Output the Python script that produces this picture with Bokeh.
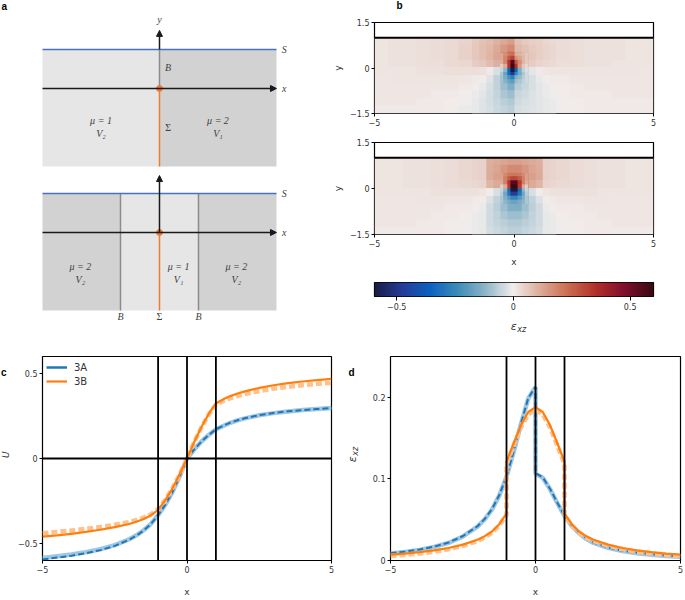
import numpy as np
from bokeh.plotting import figure
from bokeh.layouts import row, column
from bokeh.models import (Range1d, FixedTicker, Span, Label, Arrow, NormalHead,
                          LinearColorMapper, Legend, LegendItem, CustomJSTickFormatter)
from bokeh.embed import file_html
from bokeh.resources import INLINE

# ------------------------------------------------------------------ data
# panel c : displacement U along x
x_u = [-5, -4.5, -4, -3.5, -3, -2.5, -2, -1.75, -1.5, -1.25, -1, -0.75, -0.5, -0.25,
       0, 0.25, 0.5, 0.75, 1, 1.25, 1.5, 1.75, 2, 2.5, 3, 3.5, 4, 4.5, 5]
u_3A = [-0.594, -0.583, -0.572, -0.557, -0.539, -0.514, -0.478, -0.454, -0.424, -0.386,
        -0.333, -0.272, -0.196, -0.104, 0.0, 0.053, 0.1, 0.138, 0.172, 0.192, 0.211,
        0.225, 0.237, 0.255, 0.268, 0.278, 0.285, 0.291, 0.296]
u_3A_ref = [-0.585, -0.575, -0.565, -0.551, -0.534, -0.510, -0.475, -0.452, -0.422, -0.385,
            -0.333, -0.272, -0.196, -0.104, 0.0, 0.053, 0.1, 0.138, 0.171, 0.191, 0.21,
            0.224, 0.236, 0.254, 0.267, 0.277, 0.285, 0.291, 0.297]
u_3B = [-0.46, -0.452, -0.443, -0.432, -0.419, -0.404, -0.385, -0.372, -0.356, -0.335,
        -0.302, -0.245, -0.175, -0.093, 0.0, 0.097, 0.185, 0.262, 0.324, 0.348, 0.367,
        0.382, 0.395, 0.415, 0.431, 0.443, 0.453, 0.461, 0.468]
u_3B_ref = [-0.44, -0.432, -0.424, -0.414, -0.403, -0.39, -0.374, -0.362, -0.348, -0.329,
            -0.298, -0.243, -0.174, -0.092, 0.0, 0.096, 0.183, 0.258, 0.316, 0.338, 0.355,
            0.368, 0.379, 0.397, 0.411, 0.422, 0.431, 0.439, 0.445]

# panel d : strain eps_xz along x
x_e3A = [-5, -4.5, -4, -3.5, -3, -2.5, -2, -1.75, -1.5, -1.25, -1, -0.75, -0.5, -0.25, 0,
         0, 0.25, 0.5, 0.75, 1, 1.25, 1.5, 1.75, 2, 2.5, 3, 3.5, 4, 4.5, 5]
e_3A = [0.009, 0.011, 0.0135, 0.017, 0.022, 0.03, 0.042, 0.051, 0.063, 0.08, 0.103, 0.134,
        0.168, 0.199, 0.213, 0.107, 0.102, 0.088, 0.071, 0.055, 0.043, 0.034, 0.027, 0.022,
        0.016, 0.012, 0.0095, 0.0075, 0.006, 0.005]
e_3A_ref = [0.0085, 0.0105, 0.013, 0.0165, 0.0215, 0.0295, 0.0415, 0.0505, 0.0625, 0.0795,
            0.1025, 0.1335, 0.1675, 0.1985, 0.2125, 0.1065, 0.1015, 0.0875, 0.0705, 0.0545,
            0.0425, 0.0335, 0.0265, 0.0215, 0.0155, 0.0115, 0.009, 0.007, 0.0055, 0.0045]
x_e3B = [-5, -4.5, -4, -3.5, -3, -2.5, -2, -1.75, -1.5, -1.25, -1, -1, -0.75, -0.5, -0.25, 0,
         0.25, 0.5, 0.75, 1, 1, 1.25, 1.5, 1.75, 2, 2.5, 3, 3.5, 4, 4.5, 5]
e_3B = [0.0072, 0.0085, 0.0102, 0.0125, 0.0153, 0.0195, 0.0255, 0.0298, 0.0355, 0.0445,
        0.0575, 0.121, 0.144, 0.166, 0.182, 0.188, 0.182, 0.166, 0.144, 0.121, 0.0575,
        0.0445, 0.0355, 0.0298, 0.0255, 0.0195, 0.0153, 0.0125, 0.0102, 0.0085, 0.0072]
e_3B_ref = [0.0055, 0.0068, 0.0085, 0.0108, 0.0138, 0.018, 0.0238, 0.0282, 0.034, 0.043,
            0.0555, 0.118, 0.141, 0.163, 0.179, 0.185, 0.179, 0.163, 0.141, 0.118, 0.0555,
            0.043, 0.034, 0.0282, 0.0238, 0.018, 0.0138, 0.0108, 0.0085, 0.0068, 0.0055]

# panel b : eps_xz maps. Coarse cells 0.5 x 0.25 (rows y=0.875 ... -1.375, columns |x|=0.25 ... 4.75)
eps_3A_left = [
    [0.14, 0.09, 0.06, 0.045, 0.035, 0.03, 0.025, 0.022, 0.02, 0.018],
    [0.17, 0.10, 0.065, 0.048, 0.037, 0.03, 0.025, 0.022, 0.02, 0.018],
    [0.22, 0.11, 0.068, 0.048, 0.037, 0.03, 0.025, 0.022, 0.02, 0.018],
    [0.30, 0.09, 0.055, 0.042, 0.034, 0.028, 0.024, 0.021, 0.019, 0.017],
    [-0.25, -0.02, 0.02, 0.025, 0.024, 0.022, 0.02, 0.018, 0.017, 0.016],
    [-0.18, -0.04, 0.0, 0.012, 0.016, 0.017, 0.016, 0.015, 0.015, 0.014],
    [-0.12, -0.05, -0.01, 0.005, 0.01, 0.012, 0.013, 0.013, 0.013, 0.012],
    [-0.09, -0.05, -0.015, 0.0, 0.006, 0.009, 0.01, 0.011, 0.011, 0.011],
    [-0.07, -0.045, -0.018, -0.003, 0.003, 0.007, 0.009, 0.01, 0.01, 0.01],
    [-0.06, -0.04, -0.018, -0.005, 0.002, 0.005, 0.008, 0.009, 0.009, 0.009],
]
eps_3A_right = [
    [0.07, 0.05, 0.038, 0.03, 0.026, 0.023, 0.021, 0.019, 0.018, 0.017],
    [0.085, 0.055, 0.04, 0.031, 0.026, 0.023, 0.021, 0.019, 0.018, 0.017],
    [0.11, 0.058, 0.04, 0.031, 0.026, 0.023, 0.021, 0.019, 0.018, 0.017],
    [0.17, 0.05, 0.035, 0.028, 0.024, 0.021, 0.019, 0.018, 0.017, 0.016],
    [-0.15, -0.005, 0.015, 0.018, 0.018, 0.017, 0.016, 0.015, 0.015, 0.014],
    [-0.09, -0.02, 0.002, 0.009, 0.012, 0.013, 0.013, 0.013, 0.013, 0.012],
    [-0.06, -0.025, -0.005, 0.004, 0.008, 0.01, 0.011, 0.011, 0.011, 0.011],
    [-0.045, -0.025, -0.008, 0.0, 0.005, 0.008, 0.009, 0.01, 0.01, 0.01],
    [-0.035, -0.022, -0.009, -0.002, 0.003, 0.006, 0.008, 0.009, 0.009, 0.009],
    [-0.03, -0.02, -0.009, -0.003, 0.002, 0.005, 0.007, 0.008, 0.008, 0.008],
]
eps_3B_half = [
    [0.13, 0.11, 0.045, 0.038, 0.032, 0.027, 0.023, 0.02, 0.018, 0.016],
    [0.16, 0.12, 0.047, 0.039, 0.032, 0.027, 0.023, 0.02, 0.018, 0.016],
    [0.21, 0.125, 0.046, 0.038, 0.031, 0.026, 0.022, 0.02, 0.018, 0.016],
    [0.30, 0.11, 0.04, 0.034, 0.029, 0.025, 0.021, 0.019, 0.017, 0.015],
    [-0.25, -0.01, 0.02, 0.022, 0.021, 0.02, 0.018, 0.017, 0.016, 0.015],
    [-0.16, -0.04, 0.005, 0.012, 0.014, 0.015, 0.015, 0.014, 0.014, 0.013],
    [-0.1, -0.05, -0.005, 0.005, 0.009, 0.011, 0.012, 0.012, 0.012, 0.012],
    [-0.075, -0.05, -0.008, 0.001, 0.006, 0.009, 0.01, 0.011, 0.011, 0.011],
    [-0.06, -0.045, -0.01, -0.002, 0.003, 0.007, 0.009, 0.01, 0.01, 0.01],
    [-0.05, -0.04, -0.01, -0.003, 0.002, 0.005, 0.008, 0.009, 0.009, 0.009],
]
# middle cells 0.25 x 0.25 for -1.5 < x < 1.5 (3A: x=-1.375 ... 1.375 ; 3B: |x|=0.125 ... 1.375)
eps_3A_mid = [
    [0.065, 0.075, 0.088, 0.105, 0.125, 0.145, 0.075, 0.065, 0.055, 0.047, 0.041, 0.036],
    [0.068, 0.08, 0.095, 0.12, 0.15, 0.18, 0.09, 0.077, 0.063, 0.052, 0.044, 0.038],
    [0.07, 0.083, 0.1, 0.13, 0.18, 0.25, 0.125, 0.09, 0.068, 0.055, 0.045, 0.039],
    [0.06, 0.07, 0.085, 0.11, 0.18, 0.4, 0.2, 0.09, 0.06, 0.045, 0.038, 0.033],
    [0.025, 0.02, 0.005, -0.03, -0.12, -0.4, -0.2, -0.06, -0.015, 0.005, 0.012, 0.015],
    [0.008, 0.0, -0.02, -0.06, -0.13, -0.24, -0.12, -0.065, -0.03, -0.01, 0.0, 0.005],
    [-0.002, -0.012, -0.03, -0.06, -0.1, -0.14, -0.07, -0.05, -0.03, -0.015, -0.006, 0.0],
    [-0.008, -0.018, -0.033, -0.055, -0.08, -0.1, -0.05, -0.04, -0.028, -0.017, -0.009, -0.003],
    [-0.01, -0.02, -0.033, -0.05, -0.065, -0.077, -0.038, -0.032, -0.025, -0.017, -0.01, -0.005],
    [-0.012, -0.02, -0.032, -0.045, -0.056, -0.063, -0.032, -0.028, -0.022, -0.016, -0.01, -0.006],
]
eps_3B_mid_half = [
    [0.14, 0.13, 0.12, 0.11, 0.048, 0.044],
    [0.18, 0.155, 0.13, 0.115, 0.05, 0.046],
    [0.25, 0.18, 0.14, 0.118, 0.05, 0.045],
    [0.4, 0.18, 0.12, 0.1, 0.043, 0.04],
    [-0.4, -0.12, -0.03, 0.0, 0.018, 0.02],
    [-0.24, -0.13, -0.06, -0.025, 0.002, 0.007],
    [-0.14, -0.1, -0.065, -0.04, -0.006, 0.0],
    [-0.1, -0.08, -0.058, -0.042, -0.01, -0.005],
    [-0.077, -0.065, -0.052, -0.04, -0.011, -0.007],
    [-0.063, -0.056, -0.046, -0.037, -0.011, -0.008],
]
# core cells 0.125 x 0.125 for -0.5 < x, y < 0.5 (rows from top)
eps_3A_core = [
    [0.13, 0.17, 0.21, 0.23, 0.11, 0.10, 0.085, 0.065],
    [0.13, 0.19, 0.27, 0.32, 0.16, 0.13, 0.095, 0.07],
    [0.11, 0.19, 0.35, 0.55, 0.28, 0.17, 0.10, 0.065],
    [0.06, 0.12, 0.35, 0.60, 0.35, 0.15, 0.07, 0.04],
    [-0.05, -0.12, -0.35, -0.60, -0.35, -0.14, -0.06, -0.025],
    [-0.08, -0.17, -0.33, -0.50, -0.25, -0.15, -0.08, -0.04],
    [-0.09, -0.15, -0.22, -0.27, -0.14, -0.11, -0.07, -0.04],
    [-0.09, -0.13, -0.17, -0.19, -0.10, -0.08, -0.06, -0.04],
]
eps_3B_core = [
    [0.14, 0.18, 0.21, 0.22, 0.22, 0.21, 0.18, 0.14],
    [0.14, 0.20, 0.27, 0.31, 0.31, 0.27, 0.20, 0.14],
    [0.12, 0.20, 0.35, 0.55, 0.55, 0.35, 0.20, 0.12],
    [0.06, 0.12, 0.33, 0.60, 0.60, 0.33, 0.12, 0.06],
    [-0.05, -0.12, -0.33, -0.60, -0.60, -0.33, -0.12, -0.05],
    [-0.07, -0.16, -0.30, -0.48, -0.48, -0.30, -0.16, -0.07],
    [-0.08, -0.14, -0.20, -0.25, -0.25, -0.20, -0.14, -0.08],
    [-0.08, -0.12, -0.15, -0.17, -0.17, -0.15, -0.12, -0.08],
]
surface_y = 1.0
interfaces_3B = [-1.0, 0.0, 1.0]
cbar_ticks = [-0.5, 0, 0.5]

# panel a : schematic geometry
half_width = 3.0
depth = -2.0
strip = [-1.0, 1.0]
diagram_offset = -3.692

# ------------------------------------------------------------------ styles
BLUE, BLUE_L = "#1f77b4", "#9fc6e2"
ORANGE, ORANGE_L = "#ff7f0e", "#ffc08a"
LIGHT, DARK = "#e6e6e6", "#d2d2d2"
S_BLUE, S_ORANGE, GREY = "#4472c4", "#ed7d31", "#8c8c8c"
TXT = "#333333"

balance_anchors = ["#181c43", "#273b97", "#0b61bf", "#3b8bb8", "#8db5c8", "#f1edec",
                   "#dcaa98", "#cb6b4f", "#b12f2a", "#800f2e", "#3c0912"]


def make_palette(anchors, n=256):
    rgb = np.array([[int(h[i:i + 2], 16) for i in (1, 3, 5)] for h in anchors], float)
    pos = np.linspace(0, 1, len(anchors))
    out = []
    for t in np.linspace(0, 1, n):
        c = [int(round(np.interp(t, pos, rgb[:, k]))) for k in range(3)]
        out.append("#%02x%02x%02x" % tuple(c))
    return out


mapper = LinearColorMapper(palette=make_palette(balance_anchors), low=-0.6, high=0.6)
minus_fmt = "return tick < 0 ? '\u2212' + (-tick) : String(tick);"


def style_axes(p, xticks, yticks, tick_out=3):
    p.xgrid.visible = False
    p.ygrid.visible = False
    p.outline_line_color = "black"
    p.outline_line_width = 1.2
    for ax in p.axis:
        ax.axis_line_color = None
        ax.major_tick_line_color = "black"
        ax.major_tick_line_width = 1
        ax.major_tick_out = tick_out
        ax.major_tick_in = 0
        ax.minor_tick_line_color = None
        ax.major_label_text_font = "DejaVu Sans"
        ax.major_label_text_font_size = "8px"
        ax.major_label_text_color = TXT
        ax.major_label_standoff = 2
        ax.axis_label_text_font = "DejaVu Sans"
        ax.axis_label_text_font_size = "9px"
        ax.axis_label_text_font_style = "normal"
        ax.axis_label_text_color = TXT
        ax.formatter = CustomJSTickFormatter(code=minus_fmt)
    p.xaxis.ticker = FixedTicker(ticks=xticks)
    if yticks is not None:
        p.yaxis.ticker = FixedTicker(ticks=yticks)


def lab(p, x, y, text, size="9px", font="DejaVu Sans", style="normal", angle=0,
        align="center", baseline="middle", color=TXT):
    p.add_layout(Label(x=x, y=y, text=text, text_font=font, text_font_size=size,
                       text_font_style=style, angle=angle, text_align=align,
                       text_baseline=baseline, text_color=color))


def text_strip(w, h):
    s = figure(width=w, height=h, x_range=Range1d(0, w), y_range=Range1d(0, h),
               x_axis_location=None, y_axis_location=None, toolbar_location=None,
               output_backend="svg", min_border=0)
    s.grid.visible = False
    s.outline_line_color = None
    return s


# ------------------------------------------------------------------ panel a
pa = figure(width=330, height=333, x_range=Range1d(-4.077, 4.385),
            y_range=Range1d(-6.282, 2.256), x_axis_location=None, y_axis_location=None,
            toolbar_location=None, output_backend="svg", min_border=0)
pa.grid.visible = False
pa.outline_line_color = None

serif = "Liberation Serif"
ink = "#404040"
head = dict(size=6, fill_color="#1a1a1a", line_color="#1a1a1a")
for k, off in enumerate([0.0, diagram_offset]):
    if k == 0:
        lefts, rights, fills = [-half_width, 0], [0, half_width], [LIGHT, DARK]
    else:
        lefts = [-half_width, strip[0], strip[1]]
        rights = [strip[0], strip[1], half_width]
        fills = [DARK, LIGHT, DARK]
    pa.quad(left=lefts, right=rights, bottom=[depth + off] * len(lefts),
            top=[surface_y + off] * len(lefts), fill_color=fills, line_color=None)
    if k == 1:
        pa.segment(x0=strip, y0=[depth + off] * 2, x1=strip, y1=[surface_y + off] * 2,
                   line_color=GREY, line_width=1.5)
    pa.segment(x0=[-half_width], y0=[surface_y + off], x1=[half_width], y1=[surface_y + off],
               line_color=S_BLUE, line_width=1.3)
    pa.add_layout(Arrow(end=NormalHead(**head), x_start=-half_width, y_start=off,
                        x_end=half_width, y_end=off, line_color="#1a1a1a", line_width=1.5))
    if k == 0:
        pa.segment(x0=[0], y0=[off], x1=[0], y1=[surface_y + off], line_color=GREY, line_width=1.5)
        pa.add_layout(Arrow(end=NormalHead(**head), x_start=0, y_start=surface_y + off,
                            x_end=0, y_end=1.49 + off, line_color="#1a1a1a", line_width=1.5))
    else:
        pa.add_layout(Arrow(end=NormalHead(**head), x_start=0, y_start=off,
                            x_end=0, y_end=1.46 + off, line_color="#1a1a1a", line_width=1.5))
    pa.segment(x0=[0], y0=[depth + off], x1=[0], y1=[off], line_color=S_ORANGE, line_width=1.5)
    pa.scatter(x=[0], y=[off], size=6, fill_color=S_ORANGE, line_color=S_ORANGE)
    lab(pa, 3.2, surface_y + off, "S", size="10px", font=serif, style="italic", color=ink)
    lab(pa, 3.2, off, "x", size="10px", font=serif, style="italic", color=ink)

lab(pa, 0, 1.77, "y", size="10px", font=serif, style="italic", color=ink)
lab(pa, 0.22, 0.54, "B", size="10px", font=serif, style="italic", color=ink)
lab(pa, 0.22, -1.0, "Σ", size="10px", font=serif, color=ink)
for xx, mu, vv in [(-1.5, "μ = 1", "V₂"), (1.5, "μ = 2", "V₁")]:
    lab(pa, xx, -0.82, mu, size="10px", font=serif, style="italic", color=ink)
    lab(pa, xx, -1.15, vv, size="10px", font=serif, style="italic", color=ink)
for xx, mu, vv in [(-2.03, "μ = 2", "V₂"), (0.49, "μ = 1", "V₁"), (1.97, "μ = 2", "V₂")]:
    lab(pa, xx, -0.87 + diagram_offset, mu, size="10px", font=serif, style="italic", color=ink)
    lab(pa, xx, -1.2 + diagram_offset, vv, size="10px", font=serif, style="italic", color=ink)
for xx, t in [(strip[0], "B"), (0, "Σ"), (strip[1], "B")]:
    lab(pa, xx, -2.15 + diagram_offset, t, size="10px", font=serif,
        style="italic" if t == "B" else "normal", color=ink)
lab(pa, -4.05, 2.244, "a", size="10px", font="Liberation Sans", style="bold",
    align="left", baseline="top", color="black")


# ------------------------------------------------------------------ panel b
def image_rows(rows):
    return np.flipud(np.array(rows, dtype=float))


def heat_fig(coarse, mid, core, height, top_border, bottom_border):
    p = figure(width=355, height=height, x_range=Range1d(-5, 5), y_range=Range1d(-1.5, 1.5),
               toolbar_location=None, output_backend="svg", min_border_left=43,
               min_border_right=6, min_border_top=top_border, min_border_bottom=bottom_border)
    p.image(image=[image_rows(coarse)], x=-5, y=-1.5, dw=10, dh=surface_y + 1.5,
            color_mapper=mapper)
    p.image(image=[image_rows(mid)], x=-1.5, y=-1.5, dw=3, dh=surface_y + 1.5,
            color_mapper=mapper)
    p.image(image=[image_rows(core)], x=-0.5, y=-0.5, dw=1, dh=1, color_mapper=mapper)
    p.add_layout(Span(location=surface_y, dimension="width", line_color="black", line_width=2))
    style_axes(p, [-5, 0, 5], [-1.5, 0, 1.5])
    p.yaxis.axis_label = "y"
    p.yaxis.axis_label_standoff = 4
    return p


coarse_3A = [list(l[::-1]) + list(r) for l, r in zip(eps_3A_left, eps_3A_right)]
coarse_3B = [list(h[::-1]) + list(h) for h in eps_3B_half]
mid_3B = [list(h[::-1]) + list(h) for h in eps_3B_mid_half]

strip_b = text_strip(355, 14)
lab(strip_b, 32, 9, "b", size="10px", font="Liberation Sans", style="bold", color="black")
pb1 = heat_fig(coarse_3A, eps_3A_mid, eps_3A_core, 118, 8, 19)
pb2 = heat_fig(coarse_3B, mid_3B, eps_3B_core, 140, 10, 38)
pb2.xaxis.axis_label = "x"
pb2.xaxis.axis_label_standoff = 7

pcb = figure(width=355, height=40, x_range=Range1d(-0.595, 0.6), y_range=Range1d(0, 1),
             toolbar_location=None, output_backend="svg", min_border_left=43,
             min_border_right=32, min_border_top=10, min_border_bottom=16,
             y_axis_location=None)
ramp = np.linspace(-0.595, 0.6, 256)[None, :]
pcb.image(image=[ramp], x=-0.595, y=0, dw=1.195, dh=1, color_mapper=mapper)
style_axes(pcb, cbar_ticks, None, tick_out=4)

strip_cb = text_strip(355, 21)
lab(strip_cb, 181, 7, "ε", size="11px", style="italic", align="right")
lab(strip_cb, 181.5, 4, "xz", size="8px", style="italic", align="left")

# ------------------------------------------------------------------ panel c
strip_c = text_strip(12, 266)
lab(strip_c, 0.5, 245, "c", size="10px", font="Liberation Sans", style="bold",
    align="left", color="black")
lab(strip_c, 5, 138, "U", size="9px", style="italic", angle=np.pi / 2)

pc = figure(width=328, height=266, x_range=Range1d(-5, 5), y_range=Range1d(-0.6, 0.6),
            toolbar_location=None, output_backend="svg", min_border_left=30,
            min_border_right=9, min_border_top=23, min_border_bottom=34)
r3a = pc.line(x_u, u_3A_ref, line_color=BLUE, line_width=2.5)
pc.line(x_u, u_3A_ref, line_color=BLUE_L, line_width=4.5)
pc.line(x_u, u_3A, line_color=BLUE, line_width=2, line_dash="6 3")
pc.line(x_u, u_3B_ref, line_color=ORANGE_L, line_width=4.5, line_dash="6 3")
r3b = pc.line(x_u, u_3B, line_color=ORANGE, line_width=2.2)
for v in interfaces_3B:
    pc.add_layout(Span(location=v, dimension="height", line_color="black", line_width=1.8))
pc.add_layout(Span(location=0, dimension="width", line_color="black", line_width=1.8))
style_axes(pc, [-5, 0, 5], [-0.5, 0, 0.5])
pc.xaxis.axis_label = "x"
pc.xaxis.axis_label_standoff = 11
leg = Legend(items=[LegendItem(label="3A", renderers=[r3a]),
                    LegendItem(label="3B", renderers=[r3b])],
             location="top_left", margin=4, padding=6, spacing=0, glyph_width=21,
             glyph_height=14, label_height=14, label_standoff=7,
             label_text_font="DejaVu Sans", label_text_font_size="10px",
             label_text_color=TXT, border_line_color=None, background_fill_alpha=0)
pc.add_layout(leg)

# ------------------------------------------------------------------ panel d
strip_d = text_strip(20, 266)
lab(strip_d, 11, 245, "d", size="10px", font="Liberation Sans", style="bold", color="black")
lab(strip_d, 12, 136, "ε", size="11px", style="italic", angle=np.pi / 2, align="right")
lab(strip_d, 15, 136.5, "xz", size="8px", style="italic", angle=np.pi / 2, align="left")

pd_ = figure(width=324, height=266, x_range=Range1d(-5, 5), y_range=Range1d(0, 0.25),
             toolbar_location=None, output_backend="svg", min_border_left=30,
             min_border_right=4, min_border_top=23, min_border_bottom=35)
pd_.line(x_e3A, e_3A_ref, line_color=BLUE_L, line_width=4.5)
pd_.line(x_e3A, e_3A, line_color=BLUE, line_width=2, line_dash="6 3")
pd_.line(x_e3B, e_3B_ref, line_color=ORANGE_L, line_width=4.5, line_dash="6 3")
pd_.line(x_e3B, e_3B, line_color=ORANGE, line_width=2.2)
for v in interfaces_3B:
    pd_.add_layout(Span(location=v, dimension="height", line_color="black", line_width=1.8))
style_axes(pd_, [-5, 0, 5], [0, 0.1, 0.2])
pd_.xaxis.axis_label = "x"
pd_.xaxis.axis_label_standoff = 11

# ------------------------------------------------------------------ layout
layout = column(row(pa, column(strip_b, pb1, pb2, pcb, strip_cb)),
                row(strip_c, pc, strip_d, pd_))
open("out.html", "w").write(file_html(layout, INLINE))
